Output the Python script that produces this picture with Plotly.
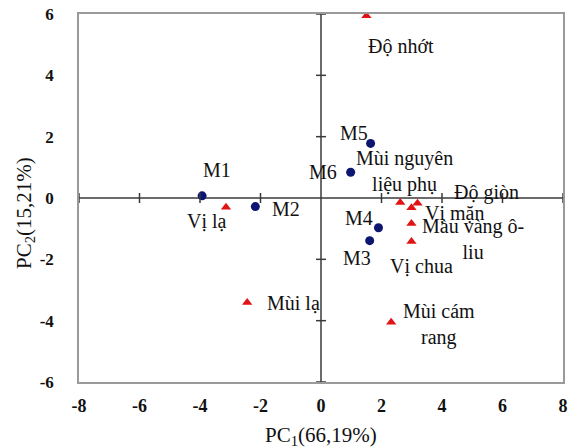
import plotly.graph_objects as go

# ---- data ----
sample_names = ["M1", "M2", "M3", "M4", "M5", "M6"]
sample_pc1 = [-3.93, -2.17, 1.61, 1.90, 1.64, 0.98]
sample_pc2 = [0.07, -0.28, -1.39, -0.97, 1.78, 0.84]

attr_names = ["Vị lạ", "Độ nhớt", "Mùi nguyên<br>liệu phụ", "Vị mặn", "Độ giòn",
              "Màu vàng ô-<br>liu", "Vị chua", "Mùi lạ", "Mùi cám<br>rang"]
attr_pc1 = [-3.14, 1.50, 2.62, 2.99, 3.19, 2.99, 2.99, -2.44, 2.32]
attr_pc2 = [-0.30, 5.94, -0.15, -0.32, -0.17, -0.83, -1.42, -3.41, -4.05]

x_ticks = [-8, -6, -4, -2, 0, 2, 4, 6, 8]
y_ticks = [-6, -4, -2, 0, 2, 4, 6]

x_title = "PC<sub>1</sub>(66,19%)"
y_title = "PC<sub>2</sub>(15,21%)"

# label offsets in pixels (dx right, dy down)
sample_offsets = {"M1": (15, -26), "M2": (31, 2), "M3": (-13, 17),
                  "M4": (-19, -10), "M5": (-17, -10), "M6": (-28, 0)}
attr_offsets = [(-19, 14), (35, 30), (4, -31), (43, 5), (69, -11),
                (62, 16), (10, 24), (46, 0), (48, 2)]

FONT = "Liberation Serif"
LBL = 20

fig = go.Figure()
fig.add_trace(go.Scatter(x=sample_pc1, y=sample_pc2, mode="markers",
                         marker=dict(symbol="circle", size=9, color="#0c1670"),
                         hoverinfo="skip", showlegend=False))
fig.add_trace(go.Scatter(x=attr_pc1, y=attr_pc2, mode="markers",
                         marker=dict(symbol="triangle-up", size=9, color="#e01414"),
                         hoverinfo="skip", showlegend=False))

annotations = []
for n, x, y in zip(sample_names, sample_pc1, sample_pc2):
    dx, dy = sample_offsets[n]
    annotations.append(dict(x=x, y=y, xref="x", yref="y", text=n, showarrow=False,
                            xshift=dx, yshift=-dy, font=dict(family=FONT, size=LBL, color="#111")))
for n, x, y, (dx, dy) in zip(attr_names, attr_pc1, attr_pc2, attr_offsets):
    annotations.append(dict(x=x, y=y, xref="x", yref="y", text=n, showarrow=False,
                            xshift=dx, yshift=-dy, align="center",
                            font=dict(family=FONT, size=LBL, color="#111")))
# axis titles
annotations.append(dict(x=0.5, y=0, xref="paper", yref="paper", text=x_title, showarrow=False,
                        xanchor="center", yanchor="middle", yshift=-54,
                        font=dict(family=FONT, size=21, color="#111")))
annotations.append(dict(x=0, y=0.5, xref="paper", yref="paper", text=y_title, showarrow=False,
                        xanchor="center", yanchor="middle", xshift=-54, yshift=-15,
                        textangle=-90, font=dict(family=FONT, size=21, color="#111")))

shapes = []
# crosshair axes
shapes.append(dict(type="line", xref="x", yref="y", x0=x_ticks[0], x1=x_ticks[-1], y0=0, y1=0,
                   line=dict(color="#3a3a3a", width=1.5), layer="below"))
shapes.append(dict(type="line", xref="x", yref="y", x0=0, x1=0, y0=y_ticks[0], y1=y_ticks[-1],
                   line=dict(color="#3a3a3a", width=1.5), layer="below"))
for v in x_ticks:
    if v == 0:
        continue
    shapes.append(dict(type="line", xref="x", yref="y", x0=v, x1=v, ysizemode="pixel",
                       yanchor=0, y0=-5, y1=5, line=dict(color="#3a3a3a", width=1.5)))
for v in y_ticks:
    if v == 0:
        continue
    shapes.append(dict(type="line", xref="x", yref="y", y0=v, y1=v, xsizemode="pixel",
                       xanchor=0, x0=-5, x1=5, line=dict(color="#3a3a3a", width=1.5)))

fig.update_layout(
    width=571, height=440,
    margin=dict(l=71, r=16, t=6, b=66),
    paper_bgcolor="white", plot_bgcolor="white",
    annotations=annotations, shapes=shapes,
    xaxis=dict(range=[-8, 8], tickvals=x_ticks, ticktext=[f"<b>{v}</b>" for v in x_ticks],
               showgrid=False, zeroline=False, showline=True, mirror=True, automargin=False,
               linecolor="#9a9a9a", linewidth=1.5, ticks="", ticklabelstandoff=7,
               ticklabeloverflow="allow",
               tickfont=dict(family=FONT, size=18, color="#111")),
    yaxis=dict(range=[-6, 6], tickvals=y_ticks, ticktext=[f"<b>{v}</b>" for v in y_ticks],
               showgrid=False, zeroline=False, showline=True, mirror=True, automargin=False,
               linecolor="#9a9a9a", linewidth=1.5, ticks="", ticklabelstandoff=20,
               ticklabeloverflow="allow",
               tickfont=dict(family=FONT, size=17, color="#111")),
)

fig.write_html("out.html")
